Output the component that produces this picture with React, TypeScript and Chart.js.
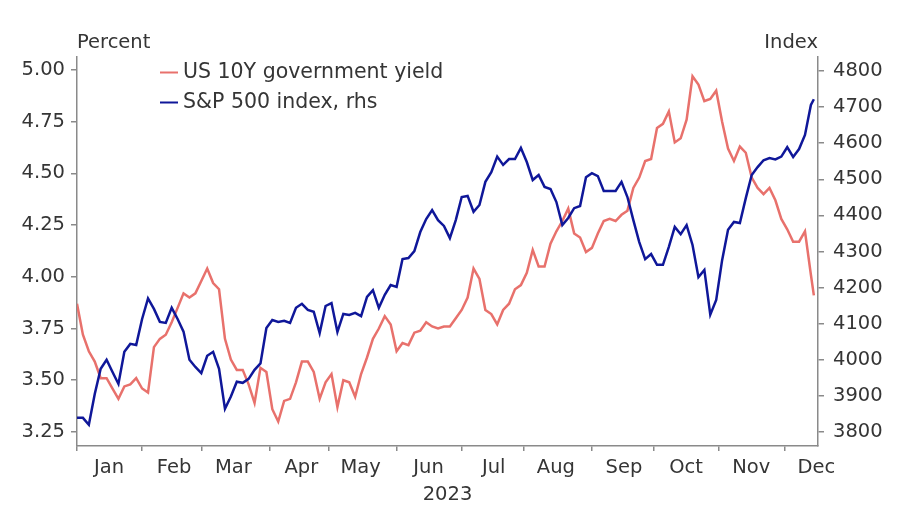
import React, { useEffect, useRef } from "react";
import { Chart, registerables } from "chart.js";

Chart.register(...registerables);

// ---- data -------------------------------------------------------------
const monthLabels = ["Jan", "Feb", "Mar", "Apr", "May", "Jun", "Jul", "Aug", "Sep", "Oct", "Nov", "Dec"];
const yearLabel = "2023";
const leftTickValues = [3.25, 3.5, 3.75, 4.0, 4.25, 4.5, 4.75, 5.0];
const rightTickValues = [3800, 3900, 4000, 4100, 4200, 4300, 4400, 4500, 4600, 4700, 4800];
const seriesNames = ["US 10Y government yield", "S&P 500 index, rhs"];
const leftAxisTitle = "Percent";
const rightAxisTitle = "Index";

// sampled every second trading day from 2 Jan 2023, last point 15 Dec 2023
const us10yYield = [
  3.87, 3.72, 3.64, 3.59, 3.51, 3.51, 3.46, 3.41, 3.47, 3.48,
  3.51, 3.46, 3.44, 3.66, 3.70, 3.72, 3.78, 3.85, 3.92, 3.90,
  3.92, 3.98, 4.04, 3.97, 3.94, 3.70, 3.60, 3.55, 3.55, 3.48,
  3.39, 3.56, 3.54, 3.36, 3.30, 3.40, 3.41, 3.49, 3.59, 3.59,
  3.54, 3.41, 3.49, 3.53, 3.37, 3.50, 3.49, 3.42, 3.53, 3.61,
  3.70, 3.75, 3.81, 3.77, 3.64, 3.68, 3.67, 3.73, 3.74, 3.78,
  3.76, 3.75, 3.76, 3.76, 3.80, 3.84, 3.90, 4.04, 3.99, 3.84,
  3.82, 3.77, 3.84, 3.87, 3.94, 3.96, 4.02, 4.13, 4.05, 4.05,
  4.16, 4.22, 4.27, 4.33, 4.21, 4.19, 4.12, 4.14, 4.21, 4.27,
  4.28, 4.27, 4.30, 4.32, 4.43, 4.48, 4.56, 4.57, 4.72, 4.74,
  4.80, 4.65, 4.67, 4.76, 4.97, 4.93, 4.85, 4.86, 4.90, 4.75,
  4.62, 4.56, 4.63, 4.60, 4.48, 4.43, 4.40, 4.43, 4.37, 4.28,
  4.23, 4.17, 4.17, 4.22, 4.01, 3.91,
];

const sp500Index = [
  3839, 3839, 3820, 3905, 3975, 4000, 3966, 3933, 4022, 4044,
  4041, 4113, 4170, 4141, 4105, 4102, 4144, 4113, 4078, 4000,
  3980, 3963, 4011, 4022, 3975, 3864, 3898, 3939, 3936, 3947,
  3972, 3990, 4088, 4110, 4105, 4108, 4102, 4144, 4155, 4138,
  4133, 4074, 4149, 4157, 4077, 4127, 4124, 4130, 4121, 4174,
  4193, 4144, 4180, 4207, 4202, 4279, 4282, 4301, 4354, 4390,
  4415, 4387, 4371, 4337, 4387, 4451, 4454, 4410, 4429, 4493,
  4520, 4563, 4540, 4556, 4556, 4587, 4548, 4498, 4512, 4479,
  4473, 4437, 4373, 4393, 4420, 4426, 4506, 4517, 4509, 4468,
  4468, 4468, 4493, 4451, 4387, 4326, 4279, 4293, 4263, 4263,
  4313, 4368, 4348, 4373, 4318, 4229, 4249, 4125, 4166, 4276,
  4360, 4382, 4379, 4448, 4512, 4534, 4553, 4559, 4555, 4563,
  4589, 4562, 4584, 4623, 4706, 4722,
];

// ---- calendar (trading-day axis) --------------------------------------
function buildWeekdays(): Date[] {
  const out: Date[] = [];
  const d = new Date(2023, 0, 2);
  const end = new Date(2023, 11, 15);
  while (d <= end) {
    const wd = d.getDay();
    if (wd !== 0 && wd !== 6) out.push(new Date(d));
    d.setDate(d.getDate() + 1);
  }
  return out;
}
const weekdays = buildWeekdays();
const monthStartIndex: number[] = monthLabels.map((_, m) =>
  weekdays.findIndex((d) => d.getMonth() === m)
);
const sampleIndex: number[] = us10yYield.map((_, k) =>
  Math.min(k * 2, weekdays.length - 1)
);

// ---- style --------------------------------------------------------------
const RED = "#E8716C";
const BLUE = "#0F1799";
const AXIS = "#8A8A8A";
const TEXT = "#353535";
const FONT = "'DejaVu Sans', sans-serif";

export default function App() {
  const canvasRef = useRef<HTMLCanvasElement | null>(null);

  useEffect(() => {
    const canvas = canvasRef.current;
    if (!canvas) return;

    const overlay = {
      id: "overlayText",
      afterDraw(chart: any) {
        const { ctx, chartArea } = chart;
        ctx.save();
        ctx.fillStyle = TEXT;
        ctx.font = `19.5px ${FONT}`;
        ctx.textBaseline = "alphabetic";
        ctx.textAlign = "left";
        ctx.fillText(leftAxisTitle, chartArea.left, 48);
        ctx.textAlign = "right";
        ctx.fillText(rightAxisTitle, chartArea.right, 48);

        // legend
        const colors = [RED, BLUE];
        const ys = [72.5, 102.5];
        ctx.font = `20.5px ${FONT}`;
        ctx.textAlign = "left";
        ctx.textBaseline = "middle";
        seriesNames.forEach((name, i) => {
          ctx.strokeStyle = colors[i];
          ctx.lineWidth = 2;
          ctx.beginPath();
          ctx.moveTo(160, ys[i]);
          ctx.lineTo(178, ys[i]);
          ctx.stroke();
          ctx.fillStyle = TEXT;
          ctx.fillText(name, 183, ys[i]);
        });
        ctx.restore();
      },
    };

    const chart = new Chart(canvas, {
      type: "line",
      data: {
        datasets: [
          {
            label: seriesNames[0],
            data: us10yYield.map((v, k) => ({ x: sampleIndex[k], y: v })),
            borderColor: RED,
            borderWidth: 2.5,
            pointRadius: 0,
            tension: 0,
            yAxisID: "y",
            order: 1,
          },
          {
            label: seriesNames[1],
            data: sp500Index.map((v, k) => ({ x: sampleIndex[k], y: v })),
            borderColor: BLUE,
            borderWidth: 2.5,
            pointRadius: 0,
            tension: 0,
            yAxisID: "y1",
            order: 0,
          },
        ],
      },
      options: {
        animation: false,
        responsive: false,
        maintainAspectRatio: false,
        layout: { padding: { top: 57, left: 0, right: 0, bottom: 0 } },
        plugins: {
          legend: { display: false },
          tooltip: { enabled: false },
        },
        scales: {
          x: {
            type: "linear",
            min: 0,
            max: 250.4,
            afterBuildTicks: (s: any) => {
              s.ticks = monthStartIndex.map((v) => ({ value: v }));
            },
            afterFit: (s: any) => {
              s.height = 64;
            },
            ticks: {
              autoSkip: false,
              maxRotation: 0,
              minRotation: 0,
              labelOffset: 32,
              padding: 5,
              color: TEXT,
              font: { family: FONT, size: 19.5 },
              callback: (v: any) => {
                const i = monthStartIndex.indexOf(Number(v));
                return i >= 0 ? monthLabels[i] : "";
              },
            },
            grid: {
              drawOnChartArea: false,
              drawTicks: true,
              tickLength: 5,
              color: AXIS,
              lineWidth: 1.5,
            },
            border: { display: true, color: AXIS, width: 1.5 },
            title: {
              display: true,
              text: yearLabel,
              color: TEXT,
              font: { family: FONT, size: 19.5 },
              padding: { top: 0, bottom: 3 },
            },
          },
          y: {
            type: "linear",
            position: "left",
            min: 3.182,
            max: 5.063,
            afterBuildTicks: (s: any) => {
              s.ticks = leftTickValues.map((v) => ({ value: v }));
            },
            afterFit: (s: any) => {
              s.width = 77;
            },
            ticks: {
              padding: 6,
              color: TEXT,
              font: { family: FONT, size: 19.5 },
              callback: (v: any) => Number(v).toFixed(2),
            },
            grid: {
              drawOnChartArea: false,
              drawTicks: true,
              tickLength: 6,
              color: AXIS,
              lineWidth: 1.5,
            },
            border: { display: true, color: AXIS, width: 1.5 },
          },
          y1: {
            type: "linear",
            position: "right",
            min: 3761,
            max: 4839,
            afterBuildTicks: (s: any) => {
              s.ticks = rightTickValues.map((v) => ({ value: v }));
            },
            afterFit: (s: any) => {
              s.width = 82;
            },
            ticks: {
              padding: 9,
              color: TEXT,
              font: { family: FONT, size: 19.5 },
              callback: (v: any) => String(v),
            },
            grid: {
              drawOnChartArea: false,
              drawTicks: true,
              tickLength: 6,
              color: AXIS,
              lineWidth: 1.5,
            },
            border: { display: true, color: AXIS, width: 1.5 },
          },
        },
      },
      plugins: [overlay],
    } as any);

    return () => {
      chart.destroy();
    };
  }, []);

  return (
    <div style={{ position: "absolute", left: 0, top: 0, width: 900, height: 510, background: "#fff" }}>
      <canvas ref={canvasRef} width={900} height={510} style={{ width: 900, height: 510, display: "block" }} />
    </div>
  );
}
